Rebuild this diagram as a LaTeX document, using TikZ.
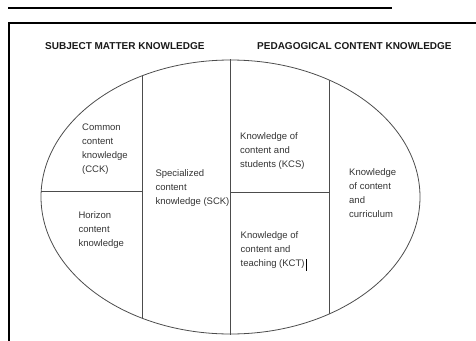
\documentclass[tikz,border=0pt]{standalone}
\usepackage{fontspec}
\setmainfont{Liberation Sans}
\begin{document}
\begin{tikzpicture}[x=1pt,y=-1pt,
  frame/.style={line width=2pt,black},
  divider/.style={line width=0.8pt,draw=black!70},
  head/.style={anchor=base west,inner sep=0pt,font=\fontsize{10}{12}\selectfont\bfseries,text=black!90},
  cell/.style={anchor=north west,inner sep=0pt,align=left,font=\fontsize{9.5}{14}\selectfont,text=black!80}]
\useasboundingbox (0,0) rectangle (476,340);
% top rule and frame
\coordinate (ruleL) at (8,8);
\coordinate (ruleR) at (392,8);
\draw[frame] (ruleL) -- (ruleR);
\draw[frame] (9,345) -- (9,22.5) -- (480,22.5);
% headings
\node[head] (smk) at (45,49.5) {SUBJECT MATTER KNOWLEDGE};
\node[head] (pck) at (257,49.5) {PEDAGOGICAL CONTENT KNOWLEDGE};
% ellipse and dividers
\coordinate (c) at (230.5,197);
\draw[divider] (c) ellipse [x radius=189.5, y radius=137];
\begin{scope}
  \clip (c) ellipse [x radius=189.5, y radius=137];
  \draw[divider] (142,40) -- (142,345);
  \draw[divider] (329,40) -- (329,345);
  \draw[divider] (30,191) -- (142,191);
  \draw[divider] (230.5,192) -- (329,192);
\end{scope}
\draw[divider] (230.5,59) -- (230.5,335);
% cell texts
\node[cell] (cck) at (82,123.8) {Common\\content\\knowledge\\(CCK)};
\node[cell] (hck) at (78.3,211) {Horizon\\content\\knowledge};
\node[cell] (sck) at (155.3,169.5) {Specialized\\content\\knowledge (SCK)};
\node[cell] (kcs) at (240,132) {Knowledge of\\content and\\students (KCS)};
\node[cell] (kct) at (240.5,231.3) {Knowledge of\\content and\\teaching (KCT)};
\node[cell] (kcc) at (349,168) {Knowledge\\of content\\and\\curriculum};
% text cursor
\draw[line width=0.9pt,black] (306,259) -- (306,271);
\end{tikzpicture}
\end{document}
